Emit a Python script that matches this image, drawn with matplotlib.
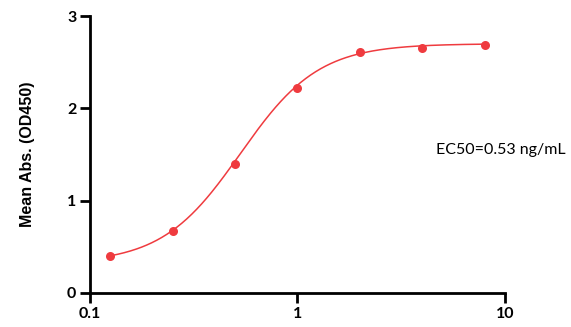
import numpy as np
import matplotlib
matplotlib.use('Agg')
import matplotlib.pyplot as plt
from matplotlib.ticker import FixedLocator, NullLocator

# measured points
conc = [0.125, 0.25, 0.5, 1, 2, 4, 8]
mean_abs = [0.40, 0.67, 1.40, 2.22, 2.61, 2.65, 2.69]

# 4PL fit parameters
bottom = 0.32
top = 2.70
ec50 = 0.53
hill = 2.3

RED = '#ef3b3f'

def four_pl(x):
    return bottom + (top - bottom) / (1 + (ec50 / x) ** hill)

fig = plt.figure(figsize=(5.71, 3.27), dpi=100)
ax = fig.add_axes([0.158, 0.104, 0.726, 0.847])

xs = np.logspace(np.log10(conc[0]), np.log10(conc[-1]), 300)
ax.plot(xs, four_pl(xs), color=RED, linewidth=1.1)
ax.plot(conc, mean_abs, 'o', color=RED, markersize=6.5, markeredgewidth=0)

ax.set_xscale('log')
ax.set_xlim(0.1, 10)
ax.set_ylim(0, 3)
ax.xaxis.set_major_locator(FixedLocator([0.1, 1, 10]))
ax.xaxis.set_minor_locator(NullLocator())
ax.set_xticklabels(['0.1', '1', '10'])
ax.set_yticks([0, 1, 2, 3])
ax.set_yticklabels(['0', '1', '2', '3'])

for side in ['top', 'right']:
    ax.spines[side].set_visible(False)
for side in ['left', 'bottom']:
    ax.spines[side].set_linewidth(2)
ax.tick_params(width=2, length=7, labelsize=11.5, pad=3)
for lab in ax.get_xticklabels() + ax.get_yticklabels():
    lab.set_fontfamily('Lato')
    lab.set_fontweight('bold')

ax.set_ylabel('Mean Abs. (OD450)', fontsize=11.5, fontweight='bold',
              fontfamily='Liberation Sans', labelpad=23)

fig.text(0.99, 0.54, 'EC50=0.53 ng/mL', ha='right', va='center',
         fontsize=11.5, fontfamily='Lato')

fig.savefig('out.png', dpi=100)
